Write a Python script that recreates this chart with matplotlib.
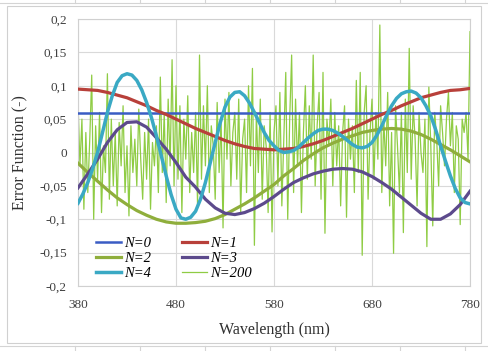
import matplotlib
matplotlib.use("Agg")
import matplotlib.pyplot as plt
from matplotlib import ticker
from matplotlib.lines import Line2D
from matplotlib.patches import Rectangle

plt.rcParams['font.family'] = ['Liberation Serif', 'DejaVu Serif']

# wavelength grid for the smooth curves (10 nm steps)
wl = list(range(380, 790, 10))

n0_level = 0.059

n1 = [0.095, 0.094, 0.093, 0.090, 0.086, 0.082, 0.076, 0.070, 0.063, 0.057,
      0.050, 0.043, 0.036, 0.030, 0.024, 0.018, 0.013, 0.009, 0.006, 0.005,
      0.004, 0.005, 0.006, 0.009, 0.013, 0.018, 0.024, 0.030, 0.036, 0.043,
      0.050, 0.057, 0.063, 0.070, 0.076, 0.082, 0.086, 0.090, 0.093, 0.094,
      0.096]

n2 = [-0.016, -0.030, -0.043, -0.056, -0.068, -0.078, -0.087, -0.094, -0.100, -0.104,
      -0.106, -0.106, -0.105, -0.103, -0.099, -0.093, -0.085, -0.077, -0.068, -0.058,
      -0.048, -0.035, -0.024, -0.012, -0.002, 0.007, 0.014, 0.020, 0.025, 0.030,
      0.033, 0.035, 0.036, 0.035, 0.032, 0.027, 0.020, 0.012, 0.004, -0.005,
      -0.014]

n3 = [-0.053, -0.032, -0.010, 0.015, 0.034, 0.045, 0.046, 0.038, 0.022, 0.005,
      -0.015, -0.037, -0.052, -0.070, -0.083, -0.091, -0.093, -0.090, -0.084, -0.076,
      -0.066, -0.055, -0.045, -0.038, -0.032, -0.028, -0.025, -0.024, -0.025, -0.029,
      -0.036, -0.045, -0.055, -0.067, -0.079, -0.091, -0.100, -0.100, -0.092, -0.078,
      -0.058]

# N=4 oscillates faster, read at 5 nm steps
wl5 = list(range(380, 785, 5))
n4 = [-0.076, -0.062, -0.045, -0.024, 0.000, 0.030, 0.060, 0.085, 0.105, 0.115,
      0.118, 0.116, 0.108, 0.094, 0.075, 0.052, 0.025, -0.005, -0.035, -0.063,
      -0.085, -0.098, -0.100, -0.097, -0.088, -0.070, -0.045, -0.015, 0.015, 0.044,
      0.068, 0.083, 0.090, 0.091, 0.085, 0.074, 0.060, 0.045, 0.030, 0.018,
      0.010, 0.003, 0.000, 0.001, 0.003, 0.008, 0.015, 0.022, 0.028, 0.033,
      0.035, 0.035, 0.033, 0.029, 0.024, 0.018, 0.012, 0.008, 0.007, 0.009,
      0.015, 0.026, 0.040, 0.056, 0.070, 0.081, 0.088, 0.091, 0.092, 0.089,
      0.082, 0.070, 0.055, 0.034, 0.010, -0.013, -0.035, -0.054, -0.068, -0.075,
      -0.077]

# N=200, 2 nm steps
wl_fine = list(range(380, 782, 2))
n200 = [
    0.076, -0.020, 0.050, -0.085, 0.030, -0.060, 0.020, 0.116, -0.100, 0.040,
    -0.040, 0.060, -0.090, 0.010, -0.030, 0.118, -0.070, 0.050, -0.050, 0.030,
    -0.080, 0.045, -0.020, 0.070, -0.060, 0.010, -0.095, 0.040, -0.030, 0.020,
    -0.050, 0.065, -0.010, -0.070, 0.030, -0.040, 0.050, -0.085, 0.015, -0.020,
    0.040, -0.060, 0.113, -0.030, 0.060, -0.075, 0.080, -0.020, 0.139, -0.050,
    0.100, -0.040, 0.070, -0.090, 0.050, -0.010, 0.085, -0.060, 0.030, -0.030,
    0.060, -0.080, 0.146, -0.040, 0.070, -0.020, 0.100, -0.060, 0.040, 0.010,
    -0.070, 0.075, -0.030, 0.050, -0.113, 0.080, -0.010, 0.090, -0.050, 0.030,
    0.060, -0.040, 0.080, -0.090, 0.020, 0.050, -0.060, 0.100, -0.020, 0.126,
    -0.139, 0.060, -0.030, 0.080, -0.070, 0.040, 0.010, -0.090, 0.060, -0.119,
    0.030, 0.070, -0.050, 0.090, -0.080, 0.020, 0.120, -0.100, 0.050, 0.146,
    -0.060, 0.080, -0.020, 0.060, -0.090, 0.030, 0.100, -0.040, 0.070, -0.010,
    0.146, -0.050, 0.040, 0.090, -0.070, 0.120, -0.121, 0.050, 0.010, 0.080,
    -0.050, 0.060, -0.020, 0.040, -0.080, 0.030, 0.070, -0.097, 0.050, -0.010,
    0.040, -0.060, 0.108, -0.030, 0.120, -0.154, 0.060, 0.100, -0.070, 0.030,
    0.080, -0.040, 0.060, -0.010, 0.191, -0.060, 0.050, -0.020, 0.090, -0.080,
    0.030, -0.151, 0.070, 0.010, -0.060, 0.060, -0.120, 0.080, -0.030, 0.156,
    -0.040, 0.070, 0.020, -0.080, 0.060, 0.000, -0.030, 0.050, -0.141, 0.098,
    0.010, -0.110, 0.060, 0.020, -0.050, 0.070, 0.030, -0.020, 0.050, 0.090,
    0.010, 0.060, -0.060, 0.040, 0.020, -0.108, 0.050, 0.030, 0.060, -0.010,
    0.181]

x_ticks = [380, 480, 580, 680, 780]

fig = plt.figure(figsize=(4.88, 3.51), dpi=100)
W, H = 488, 351

# spreadsheet cell lines around the chart object (kept behind the axes)
grid_c = '#d4d4d4'
for xc in [75, 140, 205, 270, 335, 400, 465]:
    fig.add_artist(Line2D([xc / W, xc / W], [1, 1 - 3 / H], color=grid_c, lw=0.8, zorder=-2))
    fig.add_artist(Line2D([xc / W, xc / W], [0, 5 / H], color=grid_c, lw=0.8, zorder=-2))
fig.add_artist(Line2D([0, 1], [1 - 3 / H, 1 - 3 / H], color=grid_c, lw=0.8, zorder=-2))
fig.add_artist(Line2D([0, 1], [5 / H, 5 / H], color=grid_c, lw=0.8, zorder=-2))
fig.add_artist(Rectangle((7 / W, 8 / H), 474 / W, 337 / H, transform=fig.transFigure,
                         facecolor='white', edgecolor='#d0d0d0', lw=0.8, zorder=-1))

ax = fig.add_axes([78 / W, 1 - 286 / H, 392 / W, 267 / H])
ax.set_facecolor('none')

ax.plot(wl_fine, n200, color='#8fcc44', lw=0.9, label='N=200', zorder=2)
ax.plot([wl[0], wl[-1]], [n0_level, n0_level], color='#3a5cc4', lw=1.8, label='N=0', zorder=3)
ax.plot(wl, n1, color='#b8403a', lw=2.3, label='N=1', zorder=3)
ax.plot(wl, n2, color='#8fae3c', lw=2.3, label='N=2', zorder=3)
ax.plot(wl, n3, color='#5c4a8c', lw=2.3, label='N=3', zorder=3)
ax.plot(wl5, n4, color='#3aa9c4', lw=2.5, label='N=4', zorder=4)

ax.set_xlim(380, 780)
ax.set_ylim(-0.2, 0.2)
ax.set_xticks(x_ticks)
ax.yaxis.set_major_locator(ticker.MultipleLocator(0.05))
ax.yaxis.set_major_formatter(ticker.FuncFormatter(
    lambda v, p: ('%g' % round(v, 2)).replace('.', ',')))
ax.grid(True, color='#d9d9d9', lw=0.8, zorder=0)
ax.set_axisbelow(True)
for s in ax.spines.values():
    s.set_color('#d0d0d0')
    s.set_linewidth(0.8)
ax.tick_params(length=0, labelsize=9.5, colors='#404040', pad=8)
ax.tick_params(axis='x', pad=9)

ax.set_xlabel('Wavelength (nm)', fontsize=11.5, color='#303030', labelpad=8)
ax.set_ylabel('Error Function (-)', fontsize=11.5, color='#303030', labelpad=8)

h, l = ax.get_legend_handles_labels()
order = ['N=0', 'N=2', 'N=4', 'N=1', 'N=3', 'N=200']
hs = [h[l.index(k)] for k in order]
leg = ax.legend(hs, order, ncol=2, loc='lower left', bbox_to_anchor=(0.012, -0.028),
                frameon=False, handlelength=1.75, columnspacing=2.1,
                labelspacing=0.12, handletextpad=0.2,
                prop={'family': 'Liberation Serif', 'style': 'italic', 'size': 10.5})

fig.savefig('out.png', dpi=100)
